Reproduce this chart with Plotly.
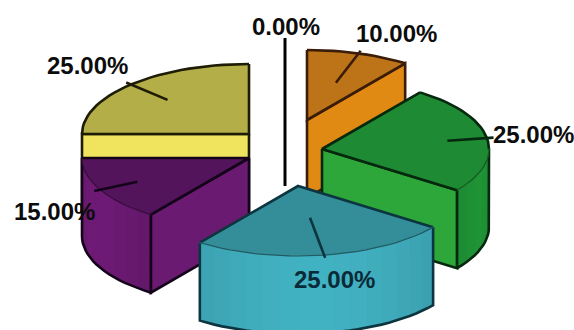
import math
import plotly.graph_objects as go

# Slice shares in percent, clockwise from twelve o'clock
names = ["Blank", "Orange", "Green", "Teal", "Purple", "Olive"]
values = [0, 10, 25, 25, 15, 25]

# Pie geometry on a pixel-sized canvas
W, H = 574, 330
RX, RY, DEPTH = 167, 70, 78
EDGE_W = 2.6

# Where each exploded slice has its tip
tips = {
    "Blank": (285, 108), "Orange": (307, 120), "Green": (322, 149),
    "Teal": (298, 186), "Purple": (249, 158), "Olive": (249, 134),
}
top_colors = {"Blank": "#000000", "Orange": "#BD7418", "Green": "#1E8A33",
              "Teal": "#348E9A", "Purple": "#54145C", "Olive": "#B3AE48"}
wall_colors = {"Blank": "#000000", "Orange": "#E08A14", "Green": "#1F8F35",
               "Teal": "#40ADBD", "Purple": "#6B1A72", "Olive": "#F0E35E"}
face_colors = {"Blank": "#000000", "Orange": "#E08A14", "Green": "#2DA63A",
               "Teal": "#40ADBD", "Purple": "#6B1A72", "Olive": "#F0E35E"}
edge_colors = {"Blank": "#000000", "Orange": "#3A1C08", "Green": "#06280E",
               "Teal": "#0C3540", "Purple": "#14041A", "Olive": "#1E1C04"}
leader_start = {"Orange": 0.56, "Green": 0.76, "Teal": 0.46, "Purple": 0.75, "Olive": 0.69}
label_pos = {"Blank": (286, 26), "Orange": (396, 33), "Green": (533, 134),
             "Teal": (334, 279), "Purple": (54, 211), "Olive": (87, 65)}
label_colors = {"Teal": "#0A2A38"}
paint_order = ["Olive", "Blank", "Orange", "Purple", "Green", "Teal"]

# Cumulative angles
spans = {}
total = 0.0
for name, value in zip(names, values):
    spans[name] = (total * 3.6, (total + value) * 3.6)
    total += value


def rim(name, deg, drop=0.0, frac=1.0):
    tx, ty = tips[name]
    a = math.radians(deg)
    return tx + frac * RX * math.sin(a), ty - frac * RY * math.cos(a) + drop


def arc(name, a0, a1, drop=0.0):
    n = max(2, int(abs(a1 - a0) / 3) + 1)
    return [rim(name, a0 + (a1 - a0) * i / (n - 1), drop) for i in range(n)]


def shade(hex_color, k):
    r, g, b = (int(hex_color[i:i + 2], 16) for i in (1, 3, 5))
    return "#%02X%02X%02X" % tuple(min(255, max(0, int(c * k))) for c in (r, g, b))


fig = go.Figure()


def poly(points, fill=None, line=None, width=0):
    xs = [p[0] for p in points]
    ys = [p[1] for p in points]
    fig.add_trace(go.Scatter(
        x=xs, y=ys, mode="lines",
        fill="toself" if fill else "none",
        fillcolor=fill,
        line=dict(color=line or fill or "rgba(0,0,0,0)", width=width),
        hoverinfo="skip", showlegend=False,
    ))


def cut_face(name, deg):
    tip = tips[name]
    p = rim(name, deg)
    pts = [tip, p, (p[0], p[1] + DEPTH), (tip[0], tip[1] + DEPTH), tip]
    poly(pts, face_colors[name], edge_colors[name], EDGE_W)


for name in paint_order:
    a0, a1 = spans[name]
    edge = edge_colors[name]
    tip = tips[name]

    if a0 == a1:
        # An empty slice collapses to a single upright line
        poly([rim(name, a0), (tip[0], tip[1] + DEPTH)], None, "#000000", 3)
        continue

    # Flat sides that turn towards the viewer
    if math.cos(math.radians(a0 - 90)) < -1e-6:
        cut_face(name, a0)
    if math.cos(math.radians(a1 + 90)) < -1e-6:
        cut_face(name, a1)

    # Curved outer wall, built from narrow shaded strips
    w0, w1 = max(a0, 90), min(a1, 270)
    if w1 > w0:
        steps = max(1, int((w1 - w0) / 6))
        for i in range(steps):
            s0 = w0 + (w1 - w0) * i / steps
            s1 = w0 + (w1 - w0) * (i + 1) / steps
            k = 0.93 + 0.10 * math.sin(math.radians((s0 - w0) / (w1 - w0) * 180))
            poly(arc(name, s0, s1) + arc(name, s1, s0, DEPTH) + [rim(name, s0)],
                 shade(wall_colors[name], k), shade(wall_colors[name], k), 1)
        poly([rim(name, w0)] + arc(name, w0, w1, DEPTH) + [rim(name, w1)], None, edge, EDGE_W)

    # Top surface and its two straight edges
    poly([tip] + arc(name, a0, a1) + [tip], top_colors[name], top_colors[name], 0.5)
    poly([rim(name, a0), tip, rim(name, a1)], None, edge, EDGE_W)

    # Rim: firm along the back, faint where it meets the visible wall
    for b0, b1, front in ((a0, min(a1, 90), False), (max(a0, 90), min(a1, 270), True),
                          (max(a0, 270), a1, False)):
        if b1 > b0:
            if front:
                poly(arc(name, b0, b1), None, shade(top_colors[name], 0.65), 1.2)
            else:
                poly(arc(name, b0, b1), None, edge, EDGE_W)

    # Leader from the surface out past the rim
    mid = (a0 + a1) / 2
    poly([rim(name, mid, frac=leader_start[name]), rim(name, mid, frac=1.04)], None, edge, EDGE_W)

fig.update_xaxes(range=[0, W], visible=False, fixedrange=True)
fig.update_yaxes(range=[H, 0], visible=False, fixedrange=True)

for name, value in zip(names, values):
    x, y = label_pos[name]
    fig.add_annotation(
        x=x, y=y, text=f"{value:.2f}%", showarrow=False,
        xanchor="center", yanchor="middle",
        font=dict(family="Liberation Sans", size=24,
                  color=label_colors.get(name, "#0C0C0C"), weight="bold"),
    )

fig.update_layout(
    width=W, height=H, autosize=False,
    margin=dict(l=0, r=0, t=0, b=0),
    paper_bgcolor="white", plot_bgcolor="white",
    showlegend=False,
)

fig.write_html("out.html", config={"displayModeBar": False})
